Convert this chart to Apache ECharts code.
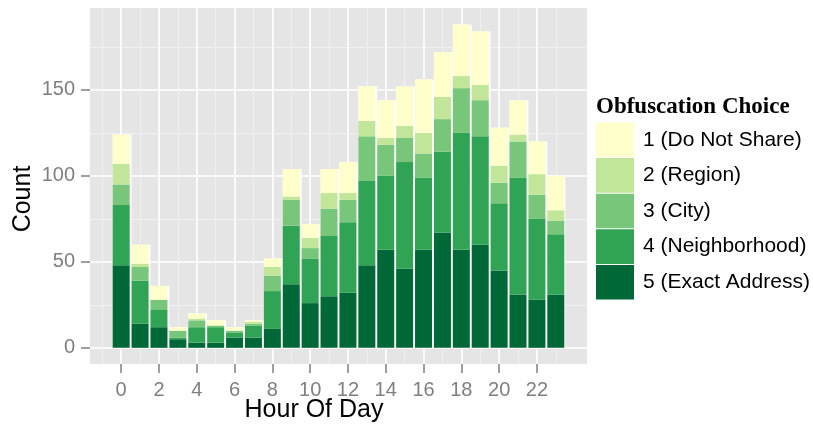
<!DOCTYPE html>
<html>
<head>
<meta charset="utf-8">
<script src="https://cdn.jsdelivr.net/npm/echarts@6/dist/echarts.min.js"></script>
<style>html,body{margin:0;padding:0;background:#fff}#c{width:813px;height:426px}</style>
</head>
<body>
<div id="c"></div>
<script>
const hours = [0,1,2,3,4,5,6,7,8,9,10,11,12,13,14,15,16,17,18,19,20,21,22,23];
const xTickLabels = [0,2,4,6,8,10,12,14,16,18,20,22];
const xMinorTicks = [-1,1,3,5,7,9,11,13,15,17,19,21,23];
const yTickLabels = [0,50,100,150];
const yMinorTicks = [25,75,125,175];
const seriesNames = ['1 (Do Not Share)','2 (Region)','3 (City)','4 (Neighborhood)','5 (Exact Address)'];
const exactAddress = [48,14,12,5,3,3,6,6,11,37,26,30,32,48,57,46,57,67,57,60,45,31,28,31];
const neighborhood = [35,25,10,1,9,9,3,7,22,34,26,35,41,49,43,62,42,47,68,63,39,68,47,35];
const city =         [12,8,6,4,4,1,1,1,9,15,6,16,13,26,18,14,14,19,26,21,12,21,14,8];
const region =       [12,2,0,0,1,0,0,1,5,2,6,9,4,9,4,7,12,13,7,9,10,4,12,6];
const doNotShare =   [17,11,8,2,3,3,2,1,5,16,8,14,18,20,22,23,31,26,30,31,22,20,19,20];
const colors = ['#FFFFCC','#C2E699','#78C679','#31A354','#006837'];

const FONT = 'Liberation Sans, Arial, Helvetica, sans-serif';
const panelLeft = 90, panelTop = 8, panelW = 497, panelH = 356;
const xMin = -1.65, xMax = 24.65, yMin = -9.4, yMax = 197.6;
const pxPerHour = panelW / (xMax - xMin);
const pxPerUnit = panelH / (yMax - yMin);
const barGridLeft = panelLeft + (-0.5 - xMin) * pxPerHour;
const barGridW = hours.length * pxPerHour;
const yTickMax = yTickLabels[yTickLabels.length - 1];
const yTickGridTop = panelTop + (yMax - yTickMax) * pxPerUnit;
const yTickGridH = (yTickMax - yTickLabels[0]) * pxPerUnit;

const totals = hours.map((h, i) => exactAddress[i] + neighborhood[i] + city[i] + region[i] + doNotShare[i]);
const stackData = [exactAddress, neighborhood, city, region, doNotShare];
const stackNames = [seriesNames[4], seriesNames[3], seriesNames[2], seriesNames[1], seriesNames[0]];
const stackColors = [colors[4], colors[3], colors[2], colors[1], colors[0]];

const series = [{
  type: 'bar', name: '_bg', xAxisIndex: 2, yAxisIndex: 2,
  data: totals, barWidth: pxPerHour, barGap: '-100%',
  itemStyle: { color: '#ffffff' }, silent: true, z: 1, animation: false
}];
stackData.forEach((d, k) => {
  series.push({
    type: 'bar', name: stackNames[k], stack: 'total', xAxisIndex: 2, yAxisIndex: 2,
    data: d, barWidth: 0.9 * pxPerHour, barGap: '-100%',
    itemStyle: { color: stackColors[k] }, z: 2, animation: false
  });
});

const chart = echarts.init(document.getElementById('c'), null, { renderer: 'canvas' });
chart.setOption({
  animation: false,
  backgroundColor: '#ffffff',
  grid: [
    { left: panelLeft, top: panelTop, width: panelW, height: panelH, show: true, backgroundColor: '#E5E5E5', borderWidth: 0 },
    { left: barGridLeft, top: panelTop, width: barGridW, height: panelH, show: false },
    { left: panelLeft, top: yTickGridTop, width: panelW, height: yTickGridH, show: false }
  ],
  xAxis: [
    { type: 'value', gridIndex: 0, min: xMin, max: xMax, position: 'bottom',
      axisLine: { show: false, onZero: false },
      axisTick: { show: true, length: 9, customValues: xTickLabels, lineStyle: { color: '#7F7F7F', width: 1.5 } },
      axisLabel: { customValues: xTickLabels, color: '#7F7F7F', fontSize: 20, fontFamily: FONT, margin: 16 },
      splitLine: { show: true, lineStyle: { color: '#FFFFFF', width: 1.6 } } },
    { type: 'value', gridIndex: 0, min: xMin, max: xMax, position: 'top',
      axisLine: { show: false, onZero: false },
      axisTick: { show: false, customValues: xMinorTicks },
      axisLabel: { show: false, customValues: xMinorTicks },
      splitLine: { show: true, lineStyle: { color: '#F2F2F2', width: 0.8 } } },
    { type: 'category', gridIndex: 1, data: hours, show: false, boundaryGap: true, axisLine: { onZero: false } },
    { type: 'value', gridIndex: 2, min: 0, max: 1, show: false, axisLine: { onZero: false } }
  ],
  yAxis: [
    { type: 'value', gridIndex: 0, min: yMin, max: yMax, position: 'left',
      axisLine: { show: false, onZero: false },
      axisTick: { show: false, customValues: yTickLabels },
      axisLabel: { show: false, customValues: yTickLabels },
      splitLine: { show: true, lineStyle: { color: '#FFFFFF', width: 1.6 } } },
    { type: 'value', gridIndex: 0, min: yMin, max: yMax, position: 'right',
      axisLine: { show: false, onZero: false },
      axisTick: { show: false, customValues: yMinorTicks },
      axisLabel: { show: false, customValues: yMinorTicks },
      splitLine: { show: true, lineStyle: { color: '#F2F2F2', width: 0.8 } } },
    { type: 'value', gridIndex: 1, min: yMin, max: yMax, show: false, axisLine: { onZero: false } },
    { type: 'value', gridIndex: 2, min: yTickLabels[0], max: yTickMax, interval: 50, position: 'left',
      axisLine: { show: false, onZero: false },
      axisTick: { show: true, length: 9, lineStyle: { color: '#7F7F7F', width: 1.5 } },
      axisLabel: { color: '#7F7F7F', fontSize: 20, fontFamily: FONT, margin: 15 },
      splitLine: { show: false } }
  ],
  legend: {
    orient: 'vertical', left: 596, top: 122.5, padding: 0, itemWidth: 38, itemHeight: 34.6, itemGap: 1,
    icon: 'rect', selectedMode: false, data: seriesNames,
    textStyle: { fontSize: 21, color: '#000000', fontFamily: FONT, padding: [0, 0, 0, 4] }
  },
  graphic: [
    { type: 'text', left: 596, top: 96, style: { text: 'Obfuscation Choice', font: 'bold 23px "Liberation Serif", "Times New Roman", serif', fill: '#000' } },
    { type: 'text', x: 314, y: 410, style: { text: 'Hour Of Day', font: '25px ' + FONT, fill: '#000', align: 'center', verticalAlign: 'middle' } },
    { type: 'text', x: 23, y: 199, rotation: Math.PI / 2, style: { text: 'Count', font: '25px ' + FONT, fill: '#000', align: 'center', verticalAlign: 'middle' } }
  ],
  series: series
});
</script>
</body>
</html>
